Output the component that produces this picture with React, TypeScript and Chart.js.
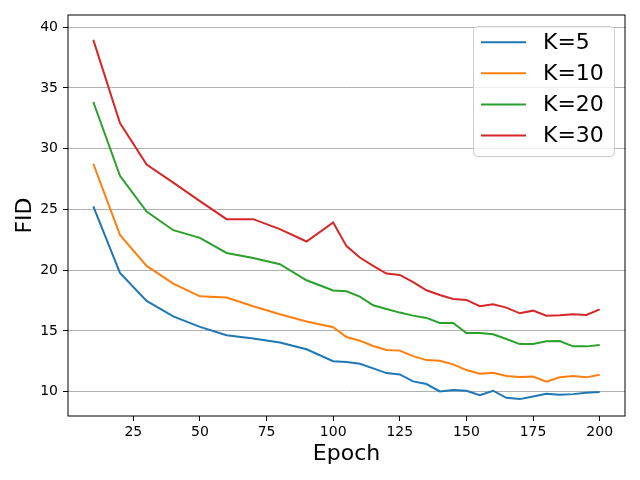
import React, { useEffect, useRef } from "react";
import { Chart, registerables } from "chart.js";

Chart.register(...registerables);

const epochs = [
  10, 20, 30, 40, 50, 60, 70, 80, 90, 100, 105, 110, 115, 120, 125, 130, 135,
  140, 145, 150, 155, 160, 165, 170, 175, 180, 185, 190, 195, 200,
];

const k5 = [
  25.25, 19.77, 17.47, 16.2, 15.33, 14.64, 14.37, 14.04, 13.49, 12.51, 12.44,
  12.3, 11.92, 11.53, 11.42, 10.85, 10.63, 10.02, 10.13, 10.08, 9.72, 10.08,
  9.5, 9.39, 9.61, 9.83, 9.75, 9.8, 9.92, 9.97,
];
const k10 = [
  28.76, 22.9, 20.35, 18.9, 17.85, 17.75, 17.03, 16.37, 15.77, 15.3, 14.5,
  14.2, 13.76, 13.43, 13.38, 12.93, 12.6, 12.55, 12.25, 11.78, 11.48, 11.56,
  11.29, 11.2, 11.24, 10.82, 11.18, 11.29, 11.18, 11.4,
];
const k20 = [
  33.84, 27.77, 24.83, 23.29, 22.66, 21.42, 21.01, 20.49, 19.17, 18.33, 18.27,
  17.83, 17.11, 16.81, 16.51, 16.26, 16.07, 15.65, 15.65, 14.83, 14.83, 14.72,
  14.34, 13.92, 13.92, 14.15, 14.17, 13.73, 13.73, 13.84,
];
const k30 = [
  38.95, 32.11, 28.7, 27.2, 25.68, 24.2, 24.2, 23.38, 22.36, 23.93, 21.98,
  21.04, 20.35, 19.72, 19.61, 19.01, 18.35, 17.96, 17.63, 17.55, 17.03, 17.2,
  16.92, 16.45, 16.67, 16.26, 16.29, 16.37, 16.31, 16.78,
];

const seriesLabels = ["K=5", "K=10", "K=20", "K=30"];
const seriesColors = ["#1f77b4", "#ff7f0e", "#2ca02c", "#d62728"];
const xTicks = [25, 50, 75, 100, 125, 150, 175, 200];
const yTicks = [10, 15, 20, 25, 30, 35, 40];

const FONT = "'DejaVu Sans', sans-serif";

// full box around the plot + matplotlib style legend in the upper right
const framePlugin = {
  id: "frameAndLegend",
  afterDatasetsDraw(chart: any) {
    const { ctx, chartArea } = chart;
    ctx.save();
    ctx.strokeStyle = "#000";
    ctx.lineWidth = 1;
    ctx.strokeRect(
      chartArea.left,
      chartArea.top,
      chartArea.right - chartArea.left,
      chartArea.bottom - chartArea.top
    );

    const w = 141;
    const rowH = 31.1;
    const sets = chart.data.datasets;
    const h = 130;
    const x0 = chartArea.right - 11 - w;
    const y0 = chartArea.top + 11;
    ctx.beginPath();
    ctx.roundRect(x0 + 0.5, y0 + 0.5, w, h, 4);
    ctx.fillStyle = "rgba(255,255,255,0.8)";
    ctx.fill();
    ctx.strokeStyle = "#cccccc";
    ctx.stroke();

    ctx.font = `22px ${FONT}`;
    ctx.textBaseline = "middle";
    ctx.textAlign = "left";
    sets.forEach((ds: any, i: number) => {
      const cy = y0 + 16.2 + i * rowH;
      ctx.beginPath();
      ctx.strokeStyle = ds.borderColor;
      ctx.lineWidth = 2;
      ctx.moveTo(x0 + 8, cy);
      ctx.lineTo(x0 + 53, cy);
      ctx.stroke();
      ctx.fillStyle = "#000";
      ctx.fillText(ds.label, x0 + 70, cy + 1);
    });
    ctx.restore();
  },
};

export default function App() {
  const chartRef = useRef<HTMLCanvasElement | null>(null);
  const chartInstance = useRef<Chart | null>(null);

  useEffect(() => {
    document.body.style.margin = "0";
    if (!chartRef.current) return;
    if (chartInstance.current) chartInstance.current.destroy();

    const ctx = chartRef.current.getContext("2d");
    if (!ctx) return;

    const series = [k5, k10, k20, k30];

    chartInstance.current = new Chart(ctx, {
      type: "line",
      data: {
        datasets: series.map((vals, i) => ({
          label: seriesLabels[i],
          data: epochs.map((e, j) => ({ x: e, y: vals[j] })),
          borderColor: seriesColors[i],
          backgroundColor: seriesColors[i],
          borderWidth: 2,
          pointRadius: 0,
          tension: 0,
          fill: false,
        })),
      },
      options: {
        responsive: true,
        maintainAspectRatio: false,
        animation: false,
        layout: { padding: { top: 15, right: 15, left: 0, bottom: 0 } },
        plugins: {
          legend: { display: false },
          tooltip: { enabled: false },
        },
        scales: {
          x: {
            type: "linear",
            min: 0.5,
            max: 209.5,
            afterBuildTicks: (axis: any) => {
              axis.ticks = xTicks.map((v) => ({ value: v }));
            },
            afterFit: (axis: any) => {
              axis.height = 64;
            },
            border: { display: false },
            grid: {
              drawOnChartArea: false,
              drawTicks: true,
              tickLength: 5,
              tickColor: "#000",
              tickWidth: 1,
            },
            ticks: {
              color: "#000",
              padding: 3,
              maxRotation: 0,
              font: { family: FONT, size: 14 },
            },
            title: {
              display: true,
              text: "Epoch",
              color: "#000",
              padding: { top: 0, bottom: 13 },
              font: { family: FONT, size: 22 },
            },
          },
          y: {
            type: "linear",
            min: 8,
            max: 41,
            afterBuildTicks: (axis: any) => {
              axis.ticks = yTicks.map((v) => ({ value: v }));
            },
            afterFit: (axis: any) => {
              axis.width = 68;
            },
            border: { display: false },
            grid: {
              color: "#b0b0b0",
              lineWidth: 1,
              drawTicks: true,
              tickLength: 5,
              tickColor: "#000",
              tickWidth: 1,
            },
            ticks: {
              color: "#000",
              padding: 5,
              font: { family: FONT, size: 14 },
            },
            title: {
              display: true,
              text: "FID",
              color: "#000",
              padding: { top: 12, bottom: 0 },
              font: { family: FONT, size: 22 },
            },
          },
        },
      },
      plugins: [framePlugin],
    });

    return () => {
      if (chartInstance.current) {
        chartInstance.current.destroy();
        chartInstance.current = null;
      }
    };
  }, []);

  return (
    <div style={{ position: "relative", width: "640px", height: "480px" }}>
      <canvas ref={chartRef} />
    </div>
  );
}
